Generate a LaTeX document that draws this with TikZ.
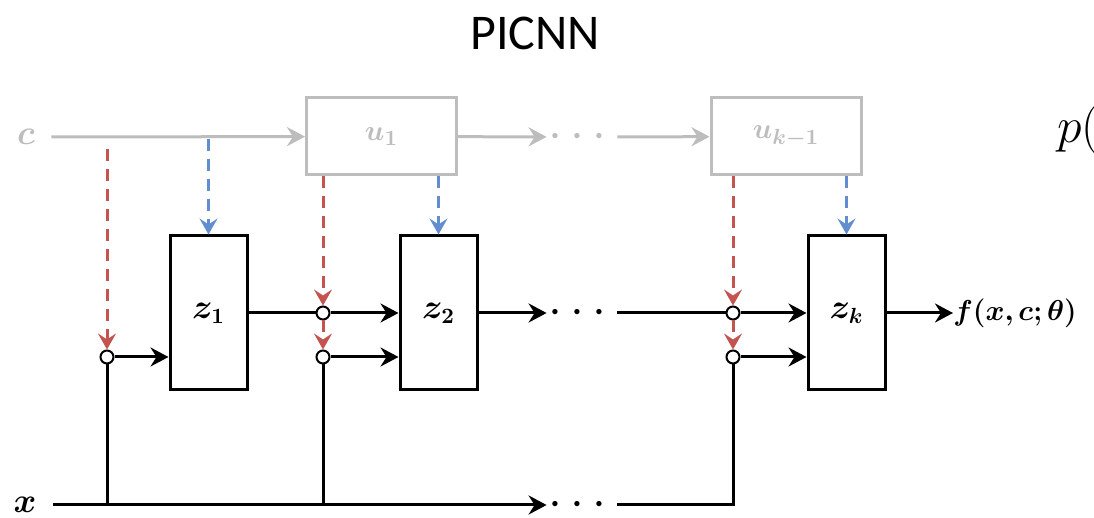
\documentclass[tikz,border=0pt]{standalone}
\usepackage{amsmath}
\usepackage{amssymb}
\usepackage{bm}
\usepackage{fontspec}
\usepackage{xcolor}
\usepackage{tikz}
\usetikzlibrary{arrows.meta, positioning}
\newfontfamily\titlefont{Carlito}
\definecolor{condgray}{RGB}{189,189,189}
\definecolor{skipred}{RGB}{196,84,80}
\definecolor{skipblue}{RGB}{98,141,206}

\begin{document}
\begin{tikzpicture}[
  x=0.5pt, y=-0.5pt,
  layer/.style={
    rectangle, draw=black, line width=1.5pt,
    minimum width=38.5pt, minimum height=77pt, inner sep=0pt,
    font=\fontsize{16}{18}\selectfont
  },
  ctx/.style={
    rectangle, draw=condgray, line width=1.5pt,
    minimum width=75pt, minimum height=38.5pt, inner sep=0pt,
    text=condgray, font=\fontsize{15}{17}\selectfont
  },
  junc/.style={circle, draw=black, fill=white, line width=1pt, minimum size=6.5pt, inner sep=0pt},
  lab/.style={inner sep=0pt, font=\fontsize{16}{18}\selectfont},
  dots/.style={minimum width=35pt, inner sep=0pt, font=\fontsize{24}{24}\selectfont},
  line/.style={line width=1.5pt},
  arr/.style={-{Stealth[length=9pt, width=9.5pt, inset=3pt]}, line width=1.5pt},
  carr/.style={arr, color=condgray},
  redarr/.style={-{Stealth[length=8pt, width=9pt, inset=3pt]}, line width=1.5pt, color=skipred, dash pattern=on 6pt off 4pt},
  bluearr/.style={redarr, color=skipblue}
]
  \useasboundingbox (0,0) rectangle (1094,518);

  % Title
  \node[font=\titlefont\fontsize{25}{30}\selectfont] (title) at (535,33) {PICNN};

  % Context path (top)
  \node[lab, text=condgray] (clab) at (26,137) {$\bm{c}$};
  \node[ctx] (u1) at (381.5,136.5) {$\bm{u_1}$};
  \node[dots, text=condgray] (dotsu) at (582,137) {$\cdots$};
  \node[ctx] (uk) at (786,136.5) {$\bm{u_{k-1}}$};

  % Main layers
  \node[layer] (z1) at (208.5,313) {$\bm{z_1}$};
  \node[layer] (z2) at (438.5,313) {$\bm{z_2}$};
  \node[dots] (dotsz) at (582,313) {$\cdots$};
  \node[layer] (zk) at (846.5,313) {$\bm{z_k}$};
  \node[lab, anchor=west, font=\fontsize{14.5}{17}\selectfont] (flab) at (953,313) {$\bm{f(x,c;\theta)}$};

  % Input path (bottom)
  \node[lab] (xlab) at (25,505) {$\bm{x}$};
  \node[dots] (dotsx) at (582,505) {$\cdots$};

  % Junctions
  \node[junc] (j1b) at (107,357) {};
  \node[junc] (j2a) at (323,313) {};
  \node[junc] (j2b) at (323,357) {};
  \node[junc] (jka) at (733,313) {};
  \node[junc] (jkb) at (733,357) {};

  % Cut-off formula on the right
  \node[font=\fontsize{31}{36}\selectfont, anchor=base west, inner sep=0pt] (pnote) at (1057,143) {$p($};

  % c -> u1 -> ... -> u_{k-1}
  \draw[carr, shorten <=8pt] (clab) -- (u1);
  \draw[carr] (u1) -- (dotsu);
  \draw[carr] (dotsu) -- (uk);

  % context into layers (dashed)
  \draw[redarr, shorten <=6pt] (clab -| j1b) -- (j1b);
  \draw[bluearr, shorten <=1pt] (clab -| z1.north) -- (z1.north);
  \draw[redarr] (u1.south -| j2a) -- (j2a);
  \draw[redarr] (j2a) -- (j2b);
  \draw[bluearr] (u1.south -| z2.north) -- (z2.north);
  \draw[redarr] (uk.south -| jka) -- (jka);
  \draw[redarr] (jka) -- (jkb);
  \draw[bluearr] (uk.south -| zk.north) -- (zk.north);

  % z path
  \draw[arr] (j1b) -- (z1.west |- j1b);
  \draw[line] (z1) -- (j2a);
  \draw[arr] (j2a) -- (z2.west |- j2a);
  \draw[arr] (j2b) -- (z2.west |- j2b);
  \draw[arr] (z2) -- (dotsz);
  \draw[line] (dotsz) -- (jka);
  \draw[arr] (jka) -- (zk.west |- jka);
  \draw[arr] (jkb) -- (zk.west |- jkb);
  \draw[arr] (zk) -- (flab);

  % x path
  \draw[arr, shorten <=8pt] (xlab) -- (dotsx);
  \draw[line] (dotsx) -| (jkb);
  \draw[line] (j1b) -- (j1b |- xlab);
  \draw[line] (j2b) -- (j2b |- xlab);
\end{tikzpicture}
\end{document}
